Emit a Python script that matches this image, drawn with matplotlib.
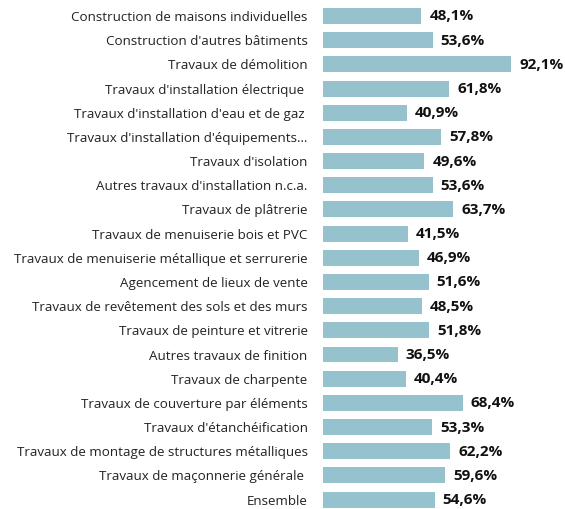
import matplotlib.pyplot as plt
import matplotlib.transforms as mtransforms

plt.rcParams['font.family'] = ['Open Sans', 'DejaVu Sans']

# Activités et part (%)
categories = [
    "Construction de maisons individuelles",
    "Construction d'autres bâtiments",
    "Travaux de démolition",
    "Travaux d'installation électrique ",
    "Travaux d'installation d'eau et de gaz ",
    "Travaux d'installation d'équipements…",
    "Travaux d'isolation",
    "Autres travaux d'installation n.c.a.",
    "Travaux de plâtrerie",
    "Travaux de menuiserie bois et PVC",
    "Travaux de menuiserie métallique et serrurerie",
    "Agencement de lieux de vente",
    "Travaux de revêtement des sols et des murs",
    "Travaux de peinture et vitrerie",
    "Autres travaux de finition",
    "Travaux de charpente",
    "Travaux de couverture par éléments",
    "Travaux d'étanchéification",
    "Travaux de montage de structures métalliques",
    "Travaux de maçonnerie générale ",
    "Ensemble",
]
values = [48.1, 53.6, 92.1, 61.8, 40.9, 57.8, 49.6, 53.6, 63.7, 41.5, 46.9,
          51.6, 48.5, 51.8, 36.5, 40.4, 68.4, 53.3, 62.2, 59.6, 54.6]
value_labels = [f"{v:.1f}%".replace('.', ',') for v in values]

W, H = 565, 509
fig = plt.figure(figsize=(W / 100, H / 100), dpi=100)
left_px = 323
ax = fig.add_axes([left_px / W, 0, 1 - left_px / W, 1])

pos = list(range(len(categories)))
ax.barh(pos, values, height=0.66, color='#96c2ce')

# value labels, shifted a few pixels right of the bar end
offset = mtransforms.ScaledTranslation(8 / 100, -0.5 / 100, fig.dpi_scale_trans)
for p, v, lab in zip(pos, values, value_labels):
    ax.text(v, p, lab, ha='left', va='center', fontsize=11,
            fontweight='bold', color='#111111',
            transform=ax.transData + offset)

ax.set_yticks(pos)
ax.set_yticklabels(categories, fontsize=9.6, color='#222222')
ax.tick_params(axis='y', length=0, pad=11)
ax.set_xticks([])

pitch = 24.18
ax.set_ylim((H - 16) / pitch, -16 / pitch)
ax.set_xlim(0, (W - left_px) / 2.045)

for s in ax.spines.values():
    s.set_visible(False)

fig.savefig('out.png', dpi=100)
